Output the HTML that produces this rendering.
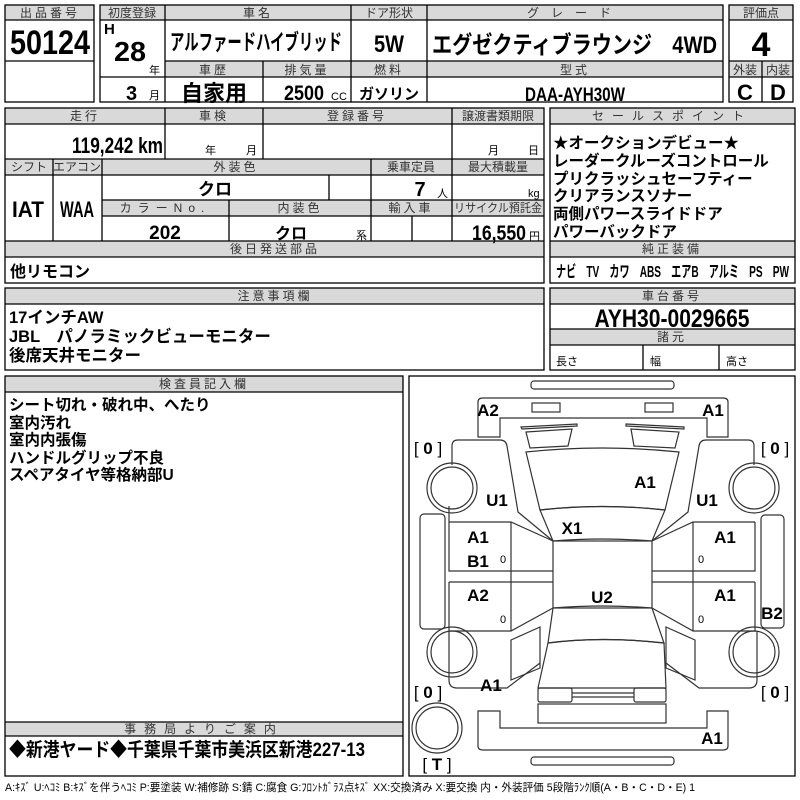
<!DOCTYPE html>
<html><head><meta charset="utf-8"><style>
html,body{margin:0;padding:0;background:#fff;}
svg{display:block;}
.h{font-family:"Liberation Sans","Noto Sans CJK JP",sans-serif;font-size:12px;fill:#333;text-anchor:middle;letter-spacing:3px;}
.b{font-family:"Liberation Sans","Noto Sans CJK JP",sans-serif;font-weight:bold;fill:#000;}
.s{font-family:"Liberation Sans","Noto Sans CJK JP",sans-serif;font-size:11px;fill:#000;}
.m{text-anchor:middle;}
.d{font-family:"Liberation Sans",sans-serif;font-weight:bold;font-size:17px;fill:#000;text-anchor:middle;}
</style></head><body>
<svg width="800" height="800" viewBox="0 0 800 800" xmlns="http://www.w3.org/2000/svg">
<g fill="#d9d9d9" stroke="none">
<rect x="5" y="5" width="89" height="15"/>
<rect x="100" y="5" width="623" height="15"/>
<rect x="165" y="61" width="558" height="16"/>
<rect x="729" y="5" width="64" height="15"/>
<rect x="729" y="61" width="64" height="16"/>
<rect x="5" y="108" width="539" height="16"/>
<rect x="5" y="159" width="539" height="16"/>
<rect x="102" y="200" width="442" height="16"/>
<rect x="5" y="241" width="539" height="16"/>
<rect x="550" y="108" width="245" height="16"/>
<rect x="550" y="241" width="245" height="16"/>
<rect x="5" y="288" width="539" height="16"/>
<rect x="550" y="288" width="245" height="16"/>
<rect x="550" y="329" width="245" height="16"/>
<rect x="5" y="376" width="398" height="16"/>
<rect x="5" y="722" width="398" height="14"/>
</g>
<g fill="none" stroke="#000" stroke-width="1.3">
<rect x="5" y="5" width="89" height="97"/><line x1="5" y1="20" x2="94" y2="20"/><line x1="5" y1="61" x2="94" y2="61"/>
<rect x="100" y="5" width="623" height="97"/><line x1="100" y1="20" x2="723" y2="20"/>
<line x1="165" y1="5" x2="165" y2="102"/><line x1="351" y1="5" x2="351" y2="102"/><line x1="427" y1="5" x2="427" y2="102"/>
<line x1="165" y1="61" x2="723" y2="61"/><line x1="100" y1="77" x2="723" y2="77"/><line x1="263" y1="61" x2="263" y2="102"/>
<rect x="729" y="5" width="64" height="97"/><line x1="729" y1="20" x2="793" y2="20"/><line x1="729" y1="61" x2="793" y2="61"/><line x1="729" y1="77" x2="793" y2="77"/><line x1="762" y1="61" x2="762" y2="102"/>
<rect x="5" y="108" width="539" height="175"/>
<line x1="5" y1="124" x2="544" y2="124"/><line x1="5" y1="159" x2="544" y2="159"/><line x1="5" y1="175" x2="544" y2="175"/>
<line x1="165" y1="108" x2="165" y2="159"/><line x1="263" y1="108" x2="263" y2="159"/><line x1="452" y1="108" x2="452" y2="241"/>
<line x1="53" y1="159" x2="53" y2="241"/><line x1="102" y1="159" x2="102" y2="241"/><line x1="371" y1="159" x2="371" y2="241"/>
<line x1="102" y1="200" x2="544" y2="200"/><line x1="102" y1="216" x2="544" y2="216"/>
<line x1="329" y1="175" x2="329" y2="200"/><line x1="229" y1="200" x2="229" y2="241"/><line x1="412" y1="216" x2="412" y2="241"/>
<line x1="5" y1="241" x2="544" y2="241"/><line x1="5" y1="257" x2="544" y2="257"/>
<rect x="550" y="108" width="245" height="175"/><line x1="550" y1="124" x2="795" y2="124"/><line x1="550" y1="241" x2="795" y2="241"/><line x1="550" y1="257" x2="795" y2="257"/>
<rect x="5" y="288" width="539" height="82"/><line x1="5" y1="304" x2="544" y2="304"/>
<rect x="550" y="288" width="245" height="82"/><line x1="550" y1="304" x2="795" y2="304"/><line x1="550" y1="329" x2="795" y2="329"/><line x1="550" y1="345" x2="795" y2="345"/>
<line x1="643" y1="345" x2="643" y2="370"/><line x1="719" y1="345" x2="719" y2="370"/>
<rect x="5" y="376" width="398" height="400"/><line x1="5" y1="392" x2="403" y2="392"/>
<line x1="5" y1="722" x2="403" y2="722"/><line x1="5" y1="736" x2="403" y2="736"/>
<rect x="409" y="376" width="386" height="400"/>
</g>
<text class="h" x="50" y="17">出品番号</text>
<text class="h" x="132" y="17" style="letter-spacing:0">初度登録</text>
<text class="h" x="258" y="17">車名</text>
<text class="h" x="389" y="17" style="letter-spacing:0">ドア形状</text>
<text class="h" x="575" y="17" style="letter-spacing:12px">グレード</text>
<text class="h" x="761" y="17" style="letter-spacing:0">評価点</text>
<text class="h" x="214" y="74">車歴</text>
<text class="h" x="307" y="74">排気量</text>
<text class="h" x="389" y="74">燃料</text>
<text class="h" x="575" y="74">型式</text>
<text class="h" x="745" y="74" style="letter-spacing:0">外装</text>
<text class="h" x="778" y="74" style="letter-spacing:0">内装</text>
<text class="h" x="85" y="120">走行</text>
<text class="h" x="214" y="120">車検</text>
<text class="h" x="357" y="120">登録番号</text>
<text class="h" x="498" y="120" style="letter-spacing:0">譲渡書類期限</text>
<text class="h" x="29" y="171" style="letter-spacing:0">シフト</text>
<text class="h" x="77" y="171" style="letter-spacing:0">エアコン</text>
<text class="h" x="236" y="171">外装色</text>
<text class="h" x="411" y="171" style="letter-spacing:0">乗車定員</text>
<text class="h" x="498" y="171" style="letter-spacing:0">最大積載量</text>
<text class="h" x="165" y="212" style="letter-spacing:6px">カラーNo.</text>
<text class="h" x="300" y="212">内装色</text>
<text class="h" x="411" y="212">輸入車</text>
<text class="h" x="498" y="212" style="letter-spacing:0" font-size="11.5" textLength="88" lengthAdjust="spacingAndGlyphs">リサイクル預託金</text>
<text class="h" x="275" y="253">後日発送部品</text>
<text class="h" x="672" y="120" style="letter-spacing:8px">セールスポイント</text>
<text class="h" x="672" y="253">純正装備</text>
<text class="h" x="275" y="300">注意事項欄</text>
<text class="h" x="672" y="300">車台番号</text>
<text class="h" x="672" y="341">諸元</text>
<text class="h" x="204" y="388">検査員記入欄</text>
<text class="h" x="204" y="733" style="letter-spacing:8px">事務局よりご案内</text>
<text class="b m" x="50" y="54" font-size="34" textLength="80" lengthAdjust="spacingAndGlyphs">50124</text>
<text class="b" x="104" y="34" font-size="15">H</text>
<text class="b" x="114" y="61" font-size="28" textLength="32" lengthAdjust="spacingAndGlyphs">28</text>
<text class="s" x="149" y="74">年</text>
<text class="b" x="126" y="100" font-size="20">3</text>
<text class="s" x="149" y="99">月</text>
<text class="b" x="170" y="50" font-size="22" textLength="172" lengthAdjust="spacingAndGlyphs">アルファードハイブリッド</text>
<text class="b m" x="389" y="52" font-size="24" textLength="30" lengthAdjust="spacingAndGlyphs">5W</text>
<text class="b" x="432" y="53" font-size="24" textLength="285" lengthAdjust="spacingAndGlyphs">エグゼクティブラウンジ　4WD</text>
<text class="b m" x="761" y="56" font-size="34">4</text>
<text class="b m" x="745" y="100" font-size="22">C</text>
<text class="b m" x="778" y="100" font-size="22">D</text>
<text class="b m" x="214" y="101" font-size="22">自家用</text>
<text class="b" x="284" y="100" font-size="21" textLength="40" lengthAdjust="spacingAndGlyphs">2500</text>
<text class="s" x="331" y="100" font-size="10">CC</text>
<text class="b m" x="389" y="99" font-size="15">ガソリン</text>
<text class="b m" x="575" y="101" font-size="19" textLength="100" lengthAdjust="spacingAndGlyphs">DAA-AYH30W</text>
<text class="b" x="72" y="153" font-size="22" textLength="91" lengthAdjust="spacingAndGlyphs">119,242 km</text>
<text class="s" x="205" y="154" font-size="12">年</text>
<text class="s" x="246" y="154" font-size="12">月</text>
<text class="s" x="488" y="154" font-size="12">月</text>
<text class="s" x="528" y="154" font-size="12">日</text>
<text class="b m" x="215" y="195" font-size="17">クロ</text>
<text class="b m" x="420" y="196" font-size="20">7</text>
<text class="s" x="437" y="197" font-size="12">人</text>
<text class="s" x="528" y="197" font-size="12">kg</text>
<text class="b m" x="28" y="217" font-size="22" textLength="32" lengthAdjust="spacingAndGlyphs">IAT</text>
<text class="b m" x="77" y="217" font-size="22" textLength="34" lengthAdjust="spacingAndGlyphs">WAA</text>
<text class="b m" x="165" y="239" font-size="19">202</text>
<text class="b m" x="291" y="239" font-size="16">クロ</text>
<text class="s" x="356" y="239" font-size="12">系</text>
<text class="b" x="472" y="240" font-size="21" textLength="54" lengthAdjust="spacingAndGlyphs">16,550</text>
<text class="s" x="529" y="240" font-size="13">円</text>
<text class="b" x="10" y="277" font-size="16">他リモコン</text>
<g class="b" font-size="15.5">
<text x="553" y="148">★オークションデビュー★</text>
<text x="553" y="166">レーダークルーズコントロール</text>
<text x="553" y="184">プリクラッシュセーフティー</text>
<text x="553" y="201">クリアランスソナー</text>
<text x="553" y="219">両側パワースライドドア</text>
<text x="553" y="237">パワーバックドア</text>
</g>
<text class="b" x="556" y="277" font-size="16" textLength="233" lengthAdjust="spacingAndGlyphs">ナビ　TV　カワ　ABS　エアB　アルミ　PS　PW</text>
<g class="b" font-size="16.5">
<text x="9" y="323">17インチAW</text>
<text x="9" y="342">JBL　パノラミックビューモニター</text>
<text x="9" y="361">後席天井モニター</text>
</g>
<text class="b m" x="672" y="327" font-size="25" textLength="155" lengthAdjust="spacingAndGlyphs">AYH30-0029665</text>
<text class="s" x="556" y="365" font-size="12">長さ</text>
<text class="s" x="650" y="365" font-size="12">幅</text>
<text class="s" x="726" y="365" font-size="12">高さ</text>
<g class="b" font-size="15.5">
<text x="9" y="410">シート切れ・破れ中、へたり</text>
<text x="9" y="428">室内汚れ</text>
<text x="9" y="445">室内内張傷</text>
<text x="9" y="463">ハンドルグリップ不良</text>
<text x="9" y="480">スペアタイヤ等格納部U</text>
</g>
<text class="b" x="9" y="756" font-size="19" textLength="356" lengthAdjust="spacingAndGlyphs">◆新港ヤード◆千葉県千葉市美浜区新港227-13</text>
<text class="s" x="5" y="791" font-size="9" fill="#333" textLength="690" lengthAdjust="spacingAndGlyphs">A:ｷｽﾞ U:ﾍｺﾐ B:ｷｽﾞを伴うﾍｺﾐ P:要塗装 W:補修跡 S:錆 C:腐食 G:ﾌﾛﾝﾄｶﾞﾗｽ点ｷｽﾞ XX:交換済み X:要交換 内・外装評価 5段階ﾗﾝｸ順(A・B・C・D・E) 1</text>
<g fill="none" stroke="#333" stroke-width="1.2">
<rect x="531" y="381" width="143" height="8" rx="3"/>
<rect x="531" y="757" width="143" height="8" rx="3"/>
<path d="M478,437 L478,402 Q478,398 483,398 L723,398 Q728,398 728,402 L728,437 L707,437 L707,418 L500,418 L500,437 Z"/>
<path d="M478,711 L478,746 Q478,750 483,750 L723,750 Q728,750 728,746 L728,711 L707,711 L707,728 L500,728 L500,711 Z"/>
<rect x="532" y="403" width="28" height="9"/><rect x="645" y="403" width="28" height="9"/>
<path d="M521,427 L577,424 L577,426 L522,429 Z"/><path d="M626,424 L684,427 L684,429 L626,426 Z"/>
<path d="M526,432 L572,429 L568,446 L530,448 Z"/><path d="M631,429 L679,432 L675,448 L634,446 Z"/>
<path d="M526,452 Q602,444 679,452 L665,510 Q602,503 540,510 Z"/>
<path d="M540,510 Q602,503 665,510 L652,541 Q602,537 553,541 Z"/>
<rect x="553" y="541" width="99" height="67"/>
<path d="M553,608 Q602,604 652,608 L664,643 Q602,636 548,643 Z"/>
<path d="M548,643 Q602,636 664,643 L666,688 L538,688 Z"/>
<rect x="538" y="688" width="34" height="14" rx="2"/><rect x="634" y="688" width="32" height="14" rx="2"/>
<line x1="572" y1="693" x2="634" y2="693"/><line x1="572" y1="697" x2="634" y2="697"/>
<rect x="538" y="704" width="128" height="19"/>
<path d="M452,465 L452,446 Q452,440 458,440 L500,440 Q506,440 507,446 L518,512 L553,541 M449,522 L449,506"/>
<path d="M754,465 L754,446 Q754,440 748,440 L706,440 Q700,440 699,446 L688,512 L652,541"/>
<path d="M449,631 L449,680 Q449,688 457,688 L507,688 L540,663"/>
<path d="M757,631 L757,680 Q757,688 749,688 L699,688 L666,663"/>
<path d="M511,640 L540,627 L540,668 L511,680 Z"/><path d="M695,640 L666,627 L666,668 L695,680 Z"/>
<path d="M449,522 L511,522 L553,541 M449,522 L449,571 L553,571 M449,582 L553,582 M449,582 L449,631 L511,631 L553,608"/>
<line x1="511" y1="522" x2="511" y2="631"/>
<path d="M755,522 L693,522 L652,541 M755,522 L755,571 L652,571 M755,582 L652,582 M755,582 L755,631 L693,631 L652,608"/>
<line x1="693" y1="522" x2="693" y2="631"/>
<rect x="420" y="514" width="25" height="115" rx="4"/>
<rect x="761" y="515" width="23" height="113" rx="4"/>
<circle cx="452" cy="488" r="25"/><circle cx="452" cy="488" r="21"/>
<circle cx="754" cy="488" r="25"/><circle cx="754" cy="488" r="21"/>
<circle cx="452" cy="652" r="25"/><circle cx="452" cy="652" r="21"/>
<circle cx="754" cy="652" r="25"/><circle cx="754" cy="652" r="21"/>
<circle cx="437" cy="728" r="25"/><circle cx="437" cy="728" r="21"/>
</g>
<g class="d">
<text x="488" y="416">A2</text><text x="713" y="416">A1</text>
<text x="645" y="488">A1</text>
<text x="497" y="506">U1</text><text x="707" y="506">U1</text>
<text x="572" y="534">X1</text>
<text x="478" y="543">A1</text><text x="478" y="567">B1</text>
<text x="725" y="543">A1</text>
<text x="478" y="601">A2</text><text x="725" y="601">A1</text>
<text x="602" y="603">U2</text>
<text x="772" y="619">B2</text>
<text x="491" y="691">A1</text>
<text x="712" y="744">A1</text>
<text x="428" y="454" font-weight="normal">[ <tspan font-weight="bold">0</tspan> ]</text>
<text x="775" y="454" font-weight="normal">[ <tspan font-weight="bold">0</tspan> ]</text>
<text x="428" y="698" font-weight="normal">[ <tspan font-weight="bold">0</tspan> ]</text>
<text x="775" y="698" font-weight="normal">[ <tspan font-weight="bold">0</tspan> ]</text>
<text x="437" y="770" font-weight="normal">[ <tspan font-weight="bold">T</tspan> ]</text>
</g>
<g class="s" font-size="12" text-anchor="middle">
<text x="503" y="563">0</text><text x="701" y="563">0</text>
<text x="503" y="623">0</text><text x="701" y="623">0</text>
</g>
</svg>
</body></html>
